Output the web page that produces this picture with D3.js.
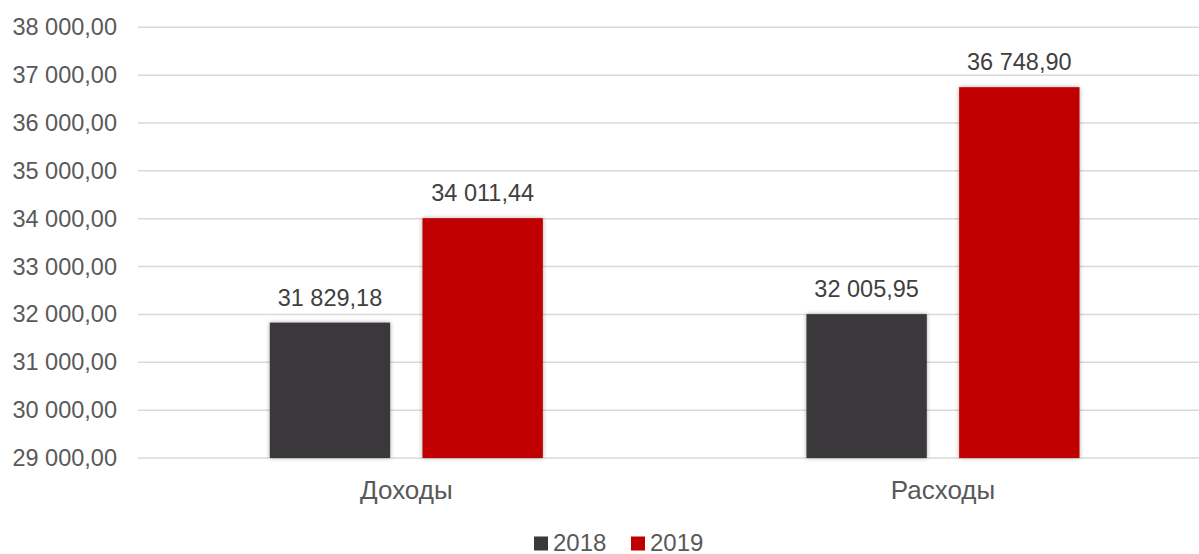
<!DOCTYPE html>
<html>
<head>
<meta charset="utf-8">
<script src="https://cdn.jsdelivr.net/npm/d3@7"></script>
<style>
  body { margin: 0; background: #fff; }
  svg { display: block; font-family: "Liberation Sans", Arial, sans-serif; }
</style>
</head>
<body>
<script>
const w = 1199;
const h = 554;

// data
const categories = ['Доходы', 'Расходы'];
const years = ['2018', '2019'];
const values2018 = [31829.18, 32005.95];
const values2019 = [34011.44, 36748.90];
const yTicks = [29000, 30000, 31000, 32000, 33000, 34000, 35000, 36000, 37000, 38000];
const colors = ['#3b393a', '#c00000'];

const rows = categories.map((c, i) => ({ cat: c, vals: [values2018[i], values2019[i]] }));

const ru = d3.formatLocale({ decimal: ',', thousands: '\u00a0', grouping: [3], currency: ['', ' ₽'] });
const fmt = ru.format(',.2f');

const svg = d3.select('body').append('svg')
  .attr('width', w)
  .attr('height', h);

const defs = svg.append('defs');
const shadow = defs.append('filter')
  .attr('id', 'shadow')
  .attr('x', '-10%').attr('y', '-10%')
  .attr('width', '120%').attr('height', '120%');
shadow.append('feDropShadow')
  .attr('dx', 0).attr('dy', 0)
  .attr('stdDeviation', 2)
  .attr('flood-color', '#000')
  .attr('flood-opacity', 0.35);

const x0 = d3.scaleBand()
  .domain(categories)
  .range([138, 1211.3]);

const groupPad = 131.8;
const x1 = d3.scaleBand()
  .domain(years)
  .range([groupPad, x0.bandwidth() - groupPad])
  .paddingInner(0.2117);

const y = d3.scaleLinear()
  .domain([29000, 38000])
  .range([458, 27.3]);

// gridlines
svg.append('g')
  .selectAll('line')
  .data(yTicks)
  .enter().append('line')
  .attr('x1', 138)
  .attr('x2', 1211.3)
  .attr('y1', d => y(d))
  .attr('y2', d => y(d))
  .attr('stroke', '#d9d9d9')
  .attr('stroke-width', 1.5);

// y axis labels
const yAxis = svg.append('g')
  .attr('transform', 'translate(138,0)')
  .call(d3.axisLeft(y).tickValues(yTicks).tickFormat(fmt).tickSize(0).tickPadding(21));
yAxis.select('.domain').remove();
yAxis.selectAll('text')
  .attr('fill', '#595959')
  .style('font-size', '23.5px')
  .style('font-family', '"Liberation Sans", Arial, sans-serif');

// bars
const groups = svg.append('g')
  .selectAll('g')
  .data(rows)
  .enter().append('g')
  .attr('transform', d => `translate(${x0(d.cat)},0)`);

groups.selectAll('rect')
  .data(d => d.vals.map((v, i) => ({ year: years[i], v: v, i: i })))
  .enter().append('rect')
  .attr('x', d => x1(d.year))
  .attr('width', x1.bandwidth())
  .attr('y', d => y(d.v))
  .attr('height', d => y(29000) - y(d.v))
  .attr('fill', d => colors[d.i])
  .attr('filter', 'url(#shadow)');

groups.selectAll('text')
  .data(d => d.vals.map((v, i) => ({ year: years[i], v: v, i: i })))
  .enter().append('text')
  .attr('x', d => x1(d.year) + x1.bandwidth() / 2)
  .attr('y', d => y(d.v) - 16.7)
  .attr('text-anchor', 'middle')
  .attr('fill', '#404040')
  .style('font-size', '23.5px')
  .text(d => fmt(d.v));

// category labels
const xAxis = svg.append('g')
  .attr('transform', 'translate(0,458)')
  .call(d3.axisBottom(x0).tickSize(0).tickPadding(23));
xAxis.select('.domain').remove();
xAxis.selectAll('text')
  .attr('fill', '#595959')
  .style('font-size', '26px')
  .style('font-family', '"Liberation Sans", Arial, sans-serif');

// legend
const legend = svg.append('g')
  .attr('transform', 'translate(534,536.5)');
const item = legend.selectAll('g')
  .data(years)
  .enter().append('g')
  .attr('transform', (d, i) => `translate(${i * 97},0)`);
item.append('rect')
  .attr('width', 14)
  .attr('height', 14)
  .attr('fill', (d, i) => colors[i]);
item.append('text')
  .attr('x', 19)
  .attr('y', 14)
  .attr('fill', '#595959')
  .style('font-size', '24px')
  .text(d => d);
</script>
</body>
</html>
